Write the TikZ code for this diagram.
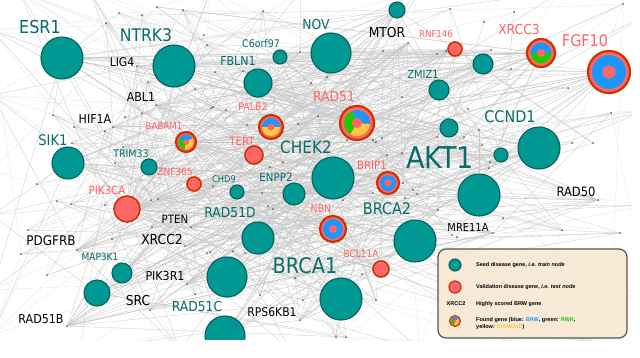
\documentclass[tikz,border=0pt]{standalone}
\usepackage{fontspec}
\setmainfont{DejaVu Sans}
\newfontfamily\genefont{DejaVu Sans}[FakeStretch=0.9]
\newfontfamily\legfont{Liberation Sans}
\definecolor{seedfill}{RGB}{0,152,146}
\definecolor{seedline}{RGB}{8,96,92}
\definecolor{seedtext}{RGB}{8,108,106}
\definecolor{valfill}{RGB}{255,102,102}
\definecolor{valline}{RGB}{204,51,0}
\definecolor{valtext}{RGB}{255,100,100}
\definecolor{brwblue}{RGB}{30,150,255}
\definecolor{rwrgreen}{RGB}{34,200,0}
\definecolor{dmdyellow}{RGB}{255,200,64}
\definecolor{legfill}{RGB}{248,232,210}
\definecolor{legline}{RGB}{85,85,85}
\usetikzlibrary{positioning}
\pgfdeclarelayer{edges}
\pgfsetlayers{edges,main}
\pgfmathdeclarerandomlist{genesA}{{esr1}{ntrk3}{sik1}{trim33}{babam1}{znf365}{pik3ca}{map3k1}{u1}{rad51c}{u2}{tert}{palb2}{fbln1}{c6orf97}{chd9}{rad51d}{enpp2}{lig4}{abl1}{hif1a}{pten}{xrcc2}{pdgfrb}{pik3r1}{src}{rad51b}{rps6kb1}{pik3ca}{babam1}{pik3ca}}
\pgfmathdeclarerandomlist{genesB}{{nov}{ntop}{chek2}{rad51}{brip1}{nbn}{brca1}{brca2}{akt1}{ccnd1}{u3}{u4}{zmiz1}{u5}{rnf146}{xrcc3}{fgf10}{bcl11a}{mtor}{mre11a}{rad50}{rad51}{chek2}}

\begin{document}
\begin{tikzpicture}[x=1pt,y=-1pt,
  seed/.style={circle,fill=seedfill,draw=seedline,line width=1.1pt,inner sep=0pt},
  val/.style={circle,fill=valfill,draw=valline,line width=1.6pt,inner sep=0pt},
  found/.style={circle,fill=valfill,draw=valline,line width=2.2pt,inner sep=0pt},
  dot/.style={circle,fill=black!65,inner sep=0pt,minimum size=2pt},
  tlbl/.style={inner sep=0pt,text=seedtext},
  rlbl/.style={inner sep=0pt,text=valtext},
  klbl/.style={inner sep=0pt,text=black},
  legtext/.style={inner sep=0pt,font=\legfont\bfseries\fontsize{5.5}{7}\selectfont,align=left},
  edge/.style={draw=black!22,line width=0.3pt},
  faint/.style={draw=black!18,line width=0.3pt,dash pattern=on 1pt off 1pt}]
\useasboundingbox (0,0) rectangle (640,357);

% seed genes
\foreach \n/\x/\y/\r in {esr1/62/58/21, ntrk3/174/66/21, sik1/68/163/16, trim33/149/167/8,
  nov/331/53/20, ntop/397/10/8, c6orf97/280/57/7, fbln1/258/83/14, chek2/333/178/21,
  enpp2/294/194/11, chd9/237/192/7, rad51d/258/238/16, map3k1/122/273/10, u1/97/293/13,
  rad51c/227/277/20, brca1/341/299/21, brca2/415/241/21, akt1/479/195/21,
  ccnd1/539/148/21, u3/501/155/7, u4/449/128/9, zmiz1/439/90/10, u5/483/64/10}
  \node[seed,minimum size={2*\r*1pt}] (\n) at (\x,\y) {};
\begin{scope}
  \clip (0,0) rectangle (640,339);
  \node[seed,minimum size=40pt] (u2) at (225,336) {};
\end{scope}

% validation genes
\foreach \n/\x/\y/\r in {rnf146/455/49/7, tert/254/155/9, znf365/194/184/7,
  pik3ca/127/209/13, bcl11a/381/269/8}
  \node[val,minimum size={2*\r*1pt}] (\n) at (\x,\y) {};

% found genes
\foreach \n/\x/\y/\r in {rad51/357/123/17, palb2/271/127/12, babam1/186/142/10,
  xrcc3/541/53/14, fgf10/609/72/21, brip1/388/183/11, nbn/333/229/13}
  \node[found,minimum size={2*\r*1pt}] (\n) at (\x,\y) {};
\foreach \n/\r/\col/\angA/\angB in {rad51/13/brwblue/-110/5, rad51/13/rwrgreen/-240/-110,
  rad51/13/dmdyellow/5/120, palb2/9/brwblue/180/360, palb2/9/dmdyellow/0/180,
  babam1/7.5/brwblue/210/330, babam1/7.5/rwrgreen/100/210, babam1/7.5/dmdyellow/-30/100,
  xrcc3/10.5/brwblue/180/360, xrcc3/10.5/rwrgreen/0/180, fgf10/17/brwblue/0/360,
  brip1/8/brwblue/0/360, nbn/10/brwblue/0/360}
  \fill[\col] (\n.center) -- ++(\angA:\r) arc[start angle=\angA,end angle=\angB,radius=\r] -- cycle;
\foreach \n/\r in {rad51/5, palb2/3.5, babam1/3, xrcc3/4, fgf10/6.5, brip1/3.5, nbn/4}
  \fill[valfill] (\n.center) circle[radius=\r];

% highly scored genes and small nodes
\foreach \n/\x/\y in {lig4/137/66, abl1/156/105, hif1a/113/127, mtor/408/43,
  mre11a/493/233, rad50/598/200, pten/191/227, xrcc2/185/246, pdgfrb/77/250,
  pik3r1/187/284, src/150/310, rad51b/67/326, rps6kb1/300/320}
  \node[dot] (\n) at (\x,\y) {};
\foreach \x/\y [count=\i] in {119/13, 142/15, 106/23, 157/7, 183/10, 207/45, 148/82,
  142/113, 125/117, 53/115, 74/127, 105/131, 72/143, 115/163, 123/147, 195/89, 211/108,
  263/11, 204/35, 300/52, 243/71, 215/72, 271/82, 311/83, 327/77, 383/51, 402/97,
  213/107, 226/110, 247/125, 298/124, 373/140, 382/138, 283/162, 270/167,
  450/9, 514/12, 484/22, 623/4, 491/50, 437/54, 446/51, 511/69, 568/88, 611/113,
  468/109, 479/130, 437/137, 464/137, 572/143, 593/143, 489/168,
  318/116, 347/140, 376/142, 387/155, 402/153, 482/145, 490/162, 403/183, 413/190,
  373/193, 405/198, 472/200, 343/200, 452/235, 457/237, 503/218, 562/230, 620/233,
  37/184, 57/201, 71/204, 105/205, 151/200, 158/199, 152/227, 28/230, 21/254,
  112/239, 47/275, 195/294, 210/252, 213/186, 262/193, 268/206, 273/209, 232/216,
  207/253, 233/251, 245/253, 273/269, 295/278, 260/295, 303/300, 362/274, 376/300,
  417/194, 438/210, 336/337, 346/337}
  {\node[dot] (d\i) at (\x,\y) {}; \xdef\ndots{\i}}
\foreach \x/\y [count=\i] in {20/-8, 90/-8, 210/-8, 300/-8, 420/-8, 560/-8,
  -8/30, -8/95, -8/170, -8/215, -8/290, -8/335, 648/15, 648/110, 648/205, 648/300,
  80/350, 180/350, 290/350, 420/350, 520/350, 610/350}
  {\coordinate (b\i) at (\x,\y); \xdef\nbord{\i}}

% labels
\foreach \txt/\x/\y/\fs/\sty in {ESR1/40/27/17.8/tlbl, NTRK3/146/35/17.4/tlbl,
  LIG4/122/62/12/klbl, ABL1/141/97.5/12.3/klbl, HIF1A/95/119/12.3/klbl,
  SIK1/53/140/14.6/tlbl, TRIM33/131/154/10.5/tlbl, BABAM1/164/125.5/9.6/rlbl,
  ZNF365/175/171.5/10/rlbl, CHD9/224/179.5/9.2/tlbl, ENPP2/276/177.5/11.4/tlbl,
  TERT/242/141/11.4/rlbl, PALB2/253/107/10.5/rlbl, RAD51/334/97/13.7/rlbl,
  NOV/316/25/13.7/tlbl, MTOR/387/33/13.7/klbl, C6orf97/261/44/10.5/tlbl,
  FBLN1/238/61/12.3/tlbl, CHEK2/306/147/17/tlbl, BRIP1/372/165/11.4/rlbl,
  AKT1/440/158/30/tlbl, BRCA2/387/209/16/tlbl, NBN/321/209/10.5/rlbl,
  MRE11A/468/227/11/klbl, BCL11A/361/254/10/rlbl, CCND1/510/117/16/tlbl,
  ZMIZ1/423/74/11/tlbl, RNF146/436/34.5/9.6/rlbl, XRCC3/519/30/13.7/rlbl,
  FGF10/585/41/16/rlbl, RAD50/576/192/12.8/klbl, PIK3CA/107/190/11.4/rlbl,
  PTEN/175/219/11.4/klbl, XRCC2/162/240/13.7/klbl, PDGFRB/51/241/13.3/klbl,
  MAP3K1/100/257/10/tlbl, PIK3R1/165/276/12.3/klbl, SRC/138/301/13.7/klbl,
  RAD51B/41/319/12.3/klbl, RAD51C/197/307/13.7/tlbl, RAD51D/230/213/13.7/tlbl,
  BRCA1/305/266/21.5/tlbl, RPS6KB1/272/312/12/klbl}
  \node[\sty,font={\genefont\fontsize{\fs}{\fs}\selectfont}] (lbl\txt) at (\x,\y) {\txt};

% legend
\node[draw=legline,fill=legfill,fill opacity=0.9,line width=1.2pt,rounded corners=8pt,
  minimum width=189pt,minimum height=89pt,inner sep=0pt] (legend) at (532.5,293.5) {};
\node[seed,minimum size=12pt] (legseed) at (455,265) {};
\node[val,minimum size=12pt,line width=1.2pt] (legval) at (455,287) {};
\node[legtext] (legxrcc) at (456,304) {XRCC2};
\node[found,minimum size=11pt,line width=1pt] (legfound) at (455,321) {};
\foreach \col/\angA/\angB in {brwblue/210/330, rwrgreen/100/210, dmdyellow/-30/100}
  \fill[\col] (legfound.center) -- ++(\angA:4) arc[start angle=\angA,end angle=\angB,radius=4] -- cycle;
\fill[valfill] (legfound.center) circle[radius=1.5];
\node[legtext,anchor=west] (legt1) at (476,265) {Seed disease gene, \textit{i.e.} \textit{train node}};
\node[legtext,anchor=west] (legt2) at (476,287) {Validation disease gene, \textit{i.e.} \textit{test node}};
\node[legtext,anchor=west] (legt3) at (476,304) {Highly scored BRW gene};
\node[legtext,anchor=west] (legt4) at (476,323.5) {Found gene (blue: \textcolor{brwblue}{BRW}, green: \textcolor{rwrgreen}{RWR},\\yellow: \textcolor{dmdyellow}{DIAMOnD})};

% background network
\begin{pgfonlayer}{edges}
  \fill[white] (0,0) rectangle (640,357);
  \begin{scope}
    \clip (0,0) rectangle (632,340);
    \pgfmathsetseed{4711}
    \foreach \k in {1,...,240}
      {\pgfmathrandomitem{\ga}{genesA}\pgfmathrandomitem{\gb}{genesB}
       \draw[edge] (\ga) -- (\gb);}
    \foreach \k in {1,...,160}
      {\pgfmathrandomitem{\ga}{genesA}\pgfmathtruncatemacro{\db}{random(1,\ndots)}
       \draw[edge] (\ga) -- (d\db);}
    \foreach \k in {1,...,160}
      {\pgfmathrandomitem{\gb}{genesB}\pgfmathtruncatemacro{\db}{random(1,\ndots)}
       \draw[edge] (\gb) -- (d\db);}
    \foreach \k in {1,...,140}
      {\pgfmathtruncatemacro{\db}{random(1,\ndots)}
       \pgfmathtruncatemacro{\dc}{mod(\db+random(1,\ndots-2),\ndots)+1}
       \draw[faint] (d\db) -- (d\dc);}
    \foreach \k in {1,...,70}
      {\pgfmathtruncatemacro{\db}{random(1,\ndots)}\pgfmathtruncatemacro{\bb}{random(1,\nbord)}
       \draw[faint] (d\db) -- (b\bb);}
    \foreach \k in {1,...,50}
      {\pgfmathrandomitem{\ga}{genesA}\pgfmathtruncatemacro{\bb}{random(1,\nbord)}
       \draw[edge] (\ga) -- (b\bb);}
  \end{scope}
\end{pgfonlayer}
\end{tikzpicture}
\end{document}
